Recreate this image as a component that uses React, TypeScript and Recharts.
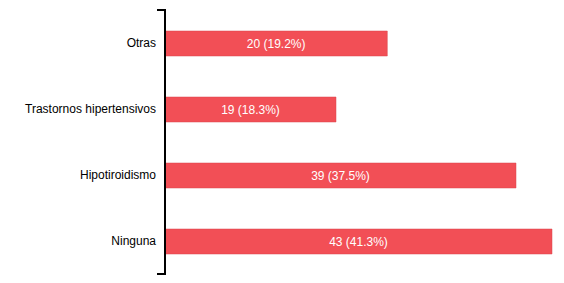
import * as R from 'recharts'
import { BarChart, Bar, XAxis, YAxis, LabelList } from 'recharts'

const categories = ['Otras', 'Trastornos hipertensivos', 'Hipotiroidismo', 'Ninguna']
// bar lengths
const values = [24.7, 19, 39, 43]
const barLabels = ['20 (19.2%)', '19 (18.3%)', '39 (37.5%)', '43 (41.3%)']

const data = categories.map((name, i) => ({
  name,
  value: values[i],
  label: barLabels[i],
}))

// little end caps on the category axis, top and bottom
function AxisCaps() {
  const usePlotArea = (R as any).usePlotArea
  const area = usePlotArea ? usePlotArea() : null
  if (!area) return null
  const x = area.x
  return (
    <g>
      <line x1={x - 8} x2={x + 1} y1={area.y} y2={area.y} stroke="#000" strokeWidth={2} />
      <line
        x1={x - 8}
        x2={x + 1}
        y1={area.y + area.height}
        y2={area.y + area.height}
        stroke="#000"
        strokeWidth={2}
      />
    </g>
  )
}

export default function App() {
  return (
    <div style={{ position: 'absolute', left: 0, top: 0, background: '#fff' }}>
      <BarChart
        width={564}
        height={283}
        data={data}
        layout="vertical"
        margin={{ top: 10, right: 12, left: 0, bottom: 9 }}
      >
        <XAxis type="number" domain={[0, 43]} hide />
        <YAxis
          type="category"
          dataKey="name"
          width={165}
          axisLine={{ stroke: '#000', strokeWidth: 2 }}
          tickLine={false}
          tickMargin={3}
          tick={{ fill: '#000', fontSize: 12, fontFamily: 'Liberation Sans, Arial, sans-serif' }}
          interval={0}
        />
        <Bar
          dataKey="value"
          fill="#f24f56"
          stroke="#d9474d"
          strokeWidth={0.5}
          barSize={25}
          isAnimationActive={false}
        >
          <LabelList
            dataKey="label"
            position="center"
            fill="#fff"
            fontSize={12}
            fontFamily="Liberation Sans, Arial, sans-serif"
          />
        </Bar>
        <AxisCaps />
      </BarChart>
    </div>
  )
}
